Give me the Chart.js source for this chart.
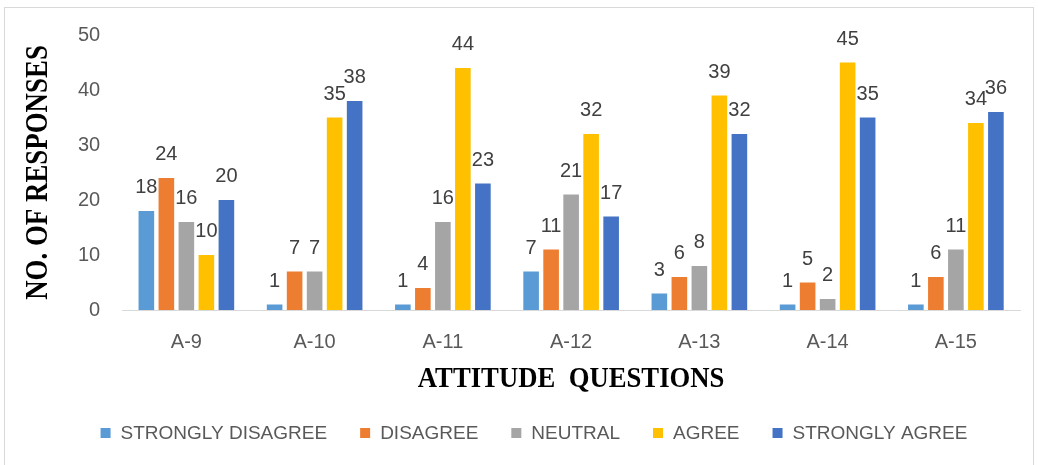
<!DOCTYPE html>
<html>
<head>
<meta charset="utf-8">
<script src="https://cdn.jsdelivr.net/npm/chart.js@4/dist/chart.umd.min.js"></script>
<style>
  html, body { margin: 0; padding: 0; background: #ffffff; }
  #wrap { position: relative; width: 1038px; height: 465px; overflow: hidden; }
  #frame { position: absolute; left: 4px; top: 7px; width: 1030px; height: 470px; border: 1px solid #d9d9d9; box-sizing: border-box; }
  canvas { position: absolute; left: 0; top: 0; }
</style>
</head>
<body>
<div id="wrap">
  <div id="frame"></div>
  <canvas id="c" width="1038" height="465"></canvas>
</div>
<script>
const categories = ["A-9", "A-10", "A-11", "A-12", "A-13", "A-14", "A-15"];
const seriesNames = ["STRONGLY DISAGREE", "DISAGREE", "NEUTRAL", "AGREE", "STRONGLY AGREE"];
const stronglyDisagree = [18, 1, 1, 7, 3, 1, 1];
const disagree = [24, 7, 4, 11, 6, 5, 6];
const neutral = [16, 7, 16, 21, 8, 2, 11];
const agree = [10, 35, 44, 32, 39, 45, 34];
const stronglyAgree = [20, 38, 23, 17, 32, 35, 36];
const yTicks = [0, 10, 20, 30, 40, 50];
const yTitle = "NO. OF RESPONSES";
const xTitle = "ATTITUDE  QUESTIONS";

const colors = ["#5B9BD5", "#ED7D31", "#A5A5A5", "#FFC000", "#4472C4"];
const seriesValues = [stronglyDisagree, disagree, neutral, agree, stronglyAgree];

const textFont = "'Liberation Sans', Arial, sans-serif";
const serifFont = "'Liberation Serif', 'Times New Roman', serif";

const decorPlugin = {
  id: 'decor',
  afterDatasetsDraw(chart) {
    const ctx = chart.ctx;
    const area = chart.chartArea;
    ctx.save();
    // data labels
    ctx.font = "20px " + textFont;
    ctx.fillStyle = "#404040";
    ctx.textAlign = "center";
    ctx.textBaseline = "alphabetic";
    chart.data.datasets.forEach((ds, i) => {
      const meta = chart.getDatasetMeta(i);
      meta.data.forEach((bar, j) => {
        ctx.fillText(String(ds.data[j]), bar.x, bar.y - 18);
      });
    });
    // y title (condensed bold serif)
    ctx.save();
    ctx.translate(39, (area.top + area.bottom) / 2);
    ctx.rotate(-Math.PI / 2);
    ctx.scale(0.84, 1);
    ctx.font = "bold 32px " + serifFont;
    ctx.fillStyle = "#000000";
    ctx.textAlign = "center";
    ctx.textBaseline = "middle";
    ctx.fillText(yTitle, 0, 0);
    ctx.restore();
    // x title
    ctx.save();
    ctx.translate((area.left + area.right) / 2, area.bottom + 69);
    ctx.scale(0.89, 1);
    ctx.font = "bold 30px " + serifFont;
    ctx.fillStyle = "#000000";
    ctx.textAlign = "center";
    ctx.textBaseline = "middle";
    ctx.fillText(xTitle, 0, 0);
    ctx.restore();
    // legend
    ctx.font = "19px " + textFont;
    ctx.textAlign = "left";
    ctx.textBaseline = "middle";
    const box = 10, gapText = 10, gapItem = 33;
    const widths = seriesNames.map(n => ctx.measureText(n).width);
    let total = 0;
    widths.forEach((w, i) => { total += box + gapText + w + (i < widths.length - 1 ? gapItem : 0); });
    let x = 534 - total / 2;
    const ly = area.bottom + 123;
    seriesNames.forEach((n, i) => {
      ctx.fillStyle = colors[i];
      ctx.fillRect(x, ly - 5, box, box);
      ctx.fillStyle = "#595959";
      ctx.fillText(n, x + box + gapText, ly + 1);
      x += box + gapText + widths[i] + gapItem;
    });
    ctx.restore();
  }
};

new Chart(document.getElementById('c'), {
  type: 'bar',
  data: {
    labels: categories,
    datasets: seriesNames.map((n, i) => ({
      label: n,
      data: seriesValues[i],
      backgroundColor: colors[i],
      borderWidth: 0,
      categoryPercentage: 0.78,
      barPercentage: 0.78
    }))
  },
  options: {
    responsive: false,
    animation: false,
    devicePixelRatio: 1,
    layout: { padding: { left: 56, right: 18, top: 35, bottom: 91 } },
    plugins: { legend: { display: false }, tooltip: { enabled: false } },
    scales: {
      x: {
        grid: { display: false, drawTicks: false },
        border: { display: true, color: "#d9d9d9", width: 1 },
        ticks: { color: "#595959", font: { size: 20, family: textFont }, padding: 20 }
      },
      y: {
        min: 0, max: 50,
        afterBuildTicks(scale) { scale.ticks = yTicks.map(v => ({ value: v })); },
        grid: { display: false, drawTicks: false },
        border: { display: false },
        ticks: { color: "#595959", font: { size: 20, family: textFont }, padding: 22 }
      }
    }
  },
  plugins: [decorPlugin]
});
</script>
</body>
</html>
